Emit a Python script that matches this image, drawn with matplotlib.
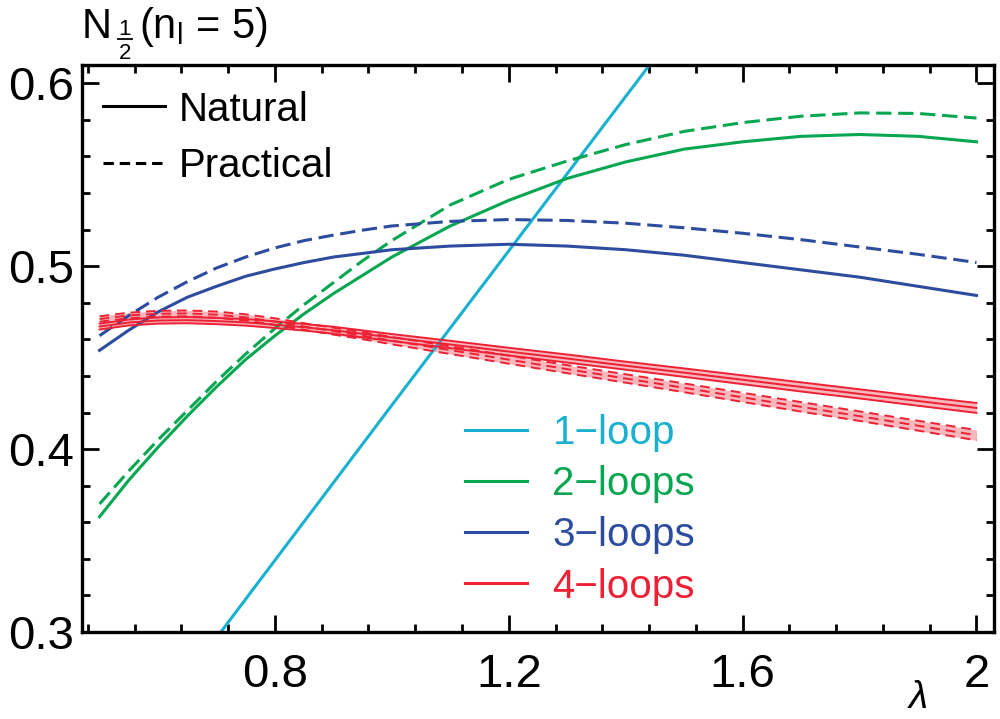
import matplotlib
matplotlib.use('Agg')
import matplotlib.pyplot as plt
from matplotlib.lines import Line2D
from matplotlib.ticker import MultipleLocator, FuncFormatter
import numpy as np

plt.rcParams['font.family'] = ['Liberation Sans', 'DejaVu Sans']
plt.rcParams['mathtext.default'] = 'regular'

# lambda grid (denser where the curves bend)
lam = [0.5, 0.55, 0.6, 0.65, 0.7, 0.75, 0.8, 0.85, 0.9, 0.95, 1.0,
       1.1, 1.2, 1.3, 1.4, 1.5, 1.6, 1.7, 1.8, 1.9, 2.0]

# 1-loop (straight, runs off the frame)
lam1 = [0.5, 1.0, 1.5, 2.0]
loop1 = [0.212, 0.424, 0.635, 0.847]

# 2-loops
loop2_nat = [0.363, 0.383, 0.401, 0.418, 0.434, 0.449, 0.462, 0.474, 0.485, 0.495, 0.505,
             0.522, 0.536, 0.548, 0.557, 0.564, 0.568, 0.571, 0.572, 0.571, 0.568]
loop2_pra = [0.370, 0.388, 0.405, 0.421, 0.437, 0.452, 0.466, 0.479, 0.491, 0.503, 0.514,
             0.5335, 0.5475, 0.5575, 0.5665, 0.5737, 0.5785, 0.582, 0.5838, 0.5835, 0.581]

# 3-loops
loop3_nat = [0.454, 0.465, 0.475, 0.483, 0.489, 0.4945, 0.4985, 0.502, 0.505, 0.507, 0.509,
             0.511, 0.512, 0.511, 0.509, 0.506, 0.502, 0.498, 0.494, 0.489, 0.484]
loop3_pra = [0.462, 0.473, 0.483, 0.4915, 0.499, 0.505, 0.510, 0.514, 0.517, 0.5197, 0.522,
             0.5245, 0.5255, 0.525, 0.5235, 0.521, 0.518, 0.5145, 0.5105, 0.5065, 0.502]

# 4-loops: central value and band half-width
loop4_nat = [0.467, 0.4692, 0.4703, 0.4705, 0.470, 0.4693, 0.468, 0.4666, 0.465, 0.463, 0.461,
             0.4572, 0.4533, 0.4495, 0.4456, 0.4418, 0.4379, 0.434, 0.4302, 0.4263, 0.4225]
loop4_nat_err = [0.0016, 0.0016, 0.0017, 0.0017, 0.0017, 0.0018, 0.0018, 0.0018, 0.0019,
                 0.0019, 0.0019, 0.002, 0.0021, 0.0022, 0.0022, 0.0023, 0.0024, 0.0025,
                 0.0025, 0.0026, 0.0027]
loop4_pra = [0.4711, 0.4731, 0.474, 0.4742, 0.4735, 0.472, 0.4697, 0.467, 0.4645, 0.462, 0.4593,
             0.4541, 0.4489, 0.4437, 0.4386, 0.4335, 0.4283, 0.4231, 0.418, 0.4128, 0.4076]
loop4_pra_err = [0.0015, 0.0015, 0.0016, 0.0016, 0.0017, 0.0017, 0.0018, 0.0018, 0.0019,
                 0.0019, 0.002, 0.0021, 0.0022, 0.0022, 0.0023, 0.0024, 0.0025, 0.0026,
                 0.0026, 0.0027, 0.0028]

loop_names = ['1\u2212loop', '2\u2212loops', '3\u2212loops', '4\u2212loops']

c1 = '#1AB0CF'
c2 = '#07A650'
c3 = '#2E4C9F'
c4 = '#EE2033'
pink = '#F7B7BC'
colors = [c1, c2, c3, c4]

lw = 2.2
dash = (0, (5, 2.2))
dash_thin = (0, (5, 3))

fig = plt.figure(figsize=(10, 7.19), dpi=100)
ax = fig.add_axes([0.082, 0.121, 0.912, 0.7886])

ax.plot(lam1, loop1, color=c1, lw=lw)
ax.plot(lam, loop2_nat, color=c2, lw=lw)
ax.plot(lam, loop2_pra, color=c2, lw=lw, ls=dash)
ax.plot(lam, loop3_nat, color=c3, lw=lw)
ax.plot(lam, loop3_pra, color=c3, lw=lw, ls=dash)

n4 = np.array(loop4_nat)
e4 = np.array(loop4_nat_err)
p4 = np.array(loop4_pra)
f4 = np.array(loop4_pra_err)

ax.fill_between(lam, p4 - f4, p4 + f4, color=pink, lw=0)
for s in (-1, 0, 1):
    ax.plot(lam, p4 + s * f4, color=c4, lw=1.4, ls=dash_thin)
ax.fill_between(lam, n4 - e4, n4 + e4, color=pink, lw=0)
for s in (-1, 0, 1):
    ax.plot(lam, n4 + s * e4, color=c4, lw=1.4)

ax.set_xlim(0.47, 2.03)
ax.set_ylim(0.3, 0.61)

ax.xaxis.set_major_locator(MultipleLocator(0.4))
ax.xaxis.set_minor_locator(MultipleLocator(0.08))
ax.yaxis.set_major_locator(MultipleLocator(0.1))
ax.yaxis.set_minor_locator(MultipleLocator(0.02))
fmt = FuncFormatter(lambda v, p: '%g' % round(v, 3))
ax.xaxis.set_major_formatter(fmt)
ax.yaxis.set_major_formatter(fmt)

ax.tick_params(which='both', direction='in', top=True, right=True, width=2, color='black')
ax.tick_params(which='major', length=12)
ax.tick_params(which='minor', length=5.8)
ax.tick_params(axis='x', which='major', labelsize=34, pad=15)
ax.tick_params(axis='y', which='major', labelsize=34, pad=6)
ax.tick_params(labeltop=False, labelright=False)
for sp in ax.spines.values():
    sp.set_linewidth(2.4)

# line style legend
h_nat = Line2D([], [], color='black', lw=2.2)
h_pra = Line2D([], [], color='black', lw=2.2, ls=(0, (3.4, 1.9)))
leg1 = ax.legend([h_nat, h_pra], ['Natural', 'Practical'], loc='upper left',
                 bbox_to_anchor=(0.023, 0.955), frameon=False, fontsize=29,
                 handlelength=1.55, handletextpad=0.32, labelspacing=0.45,
                 borderpad=0, borderaxespad=0)
ax.add_artist(leg1)

# loop order legend
handles = [Line2D([], [], color=c, lw=lw) for c in colors]
ax.legend(handles, loop_names, loc='upper left', bbox_to_anchor=(0.42, 0.385),
          frameon=False, fontsize=29, labelcolor='linecolor', handlelength=1.55,
          handletextpad=0.62, labelspacing=0.33, borderpad=0, borderaxespad=0)

# title N_{1/2}(n_l = 5), fraction built by hand
fig.text(82 / 1000, 1 - 38 / 719, 'N', fontsize=30, ha='left', va='baseline')
fig.text(125 / 1000, 1 - 35 / 719, '1', fontsize=16, ha='center', va='baseline')
fig.text(125 / 1000, 1 - 59 / 719, '2', fontsize=16, ha='center', va='baseline')
fig.add_artist(Line2D([118 / 1000, 132 / 1000], [1 - 38.5 / 719, 1 - 38.5 / 719],
                      color='black', lw=1.3, transform=fig.transFigure))
fig.text(139 / 1000, 1 - 38 / 719, r'(n$_\mathregular{l}$ = 5)', fontsize=30,
         ha='left', va='baseline')

fig.text(0.918, 1 - 698 / 719, '\u03bb', fontsize=28, style='italic',
         ha='center', va='center')

fig.savefig('out.png', dpi=100)
